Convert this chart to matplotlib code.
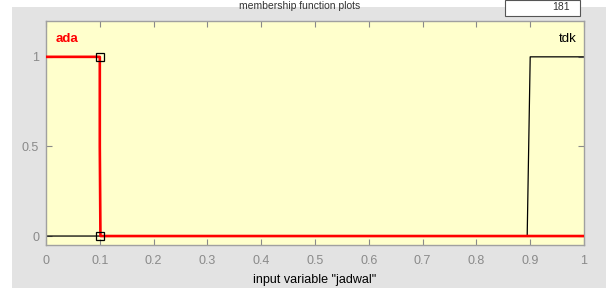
import matplotlib.pyplot as plt
from matplotlib.patches import Rectangle

# membership functions (breakpoints)
ada_x = [0.0, 0.1, 0.1, 0.1012, 1.0]
ada_y = [1.0, 1.0, 0.5, 0.0, 0.0]
tdk_x = [0.0, 0.8944, 0.8972, 0.9, 1.0]
tdk_y = [0.0, 0.0, 0.5, 1.0, 1.0]
param_x = [0.1, 0.1]
param_y = [1.0, 0.0]

xticks = [0, 0.1, 0.2, 0.3, 0.4, 0.5, 0.6, 0.7, 0.8, 0.9, 1]
xticklabels = ['0', '0.1', '0.2', '0.3', '0.4', '0.5', '0.6', '0.7', '0.8', '0.9', '1']
yticks = [0, 0.5, 1]
yticklabels = ['0', '0.5', '1']

plt.rcParams['font.family'] = ['Liberation Sans', 'DejaVu Sans']

W, H = 610, 288
fig = plt.figure(figsize=(6.1, 2.88), dpi=100, facecolor='white')
# gray panel of the window
fig.patches.append(Rectangle((12 / W, 0), 594 / W, 1 - 7 / H, transform=fig.transFigure,
                             facecolor='#e3e3e3', edgecolor='none', zorder=-5))
# title (cut off in the original) and the small edit box at the top
fig.text(300 / W, 1 - 1 / H, 'membership function plots', ha='center', va='top',
         fontsize=7.5, color='#333333', zorder=2)
fig.patches.append(Rectangle((505 / W, 1 - 16 / H), 75 / W, 16 / H, transform=fig.transFigure,
                             facecolor='white', edgecolor='#555555', lw=0.8, zorder=1))
fig.text(570 / W, 1 - 2 / H, '181', ha='right', va='top', fontsize=7.5, color='#333333', zorder=2)

ax = fig.add_axes([46 / W, 43 / H, 538 / W, 224 / H])
ax.set_facecolor('#ffffcc')

ax.plot(tdk_x, tdk_y, color='black', lw=0.9, zorder=2)
ax.plot(ada_x, ada_y, color='red', lw=1.9, zorder=3)
ax.plot(param_x, param_y, ls='none', marker='s', ms=5.5, mfc='none', mec='black',
        mew=0.9, zorder=4, clip_on=False)

ax.text(0.018, 1.1, 'ada', color='red', fontweight='bold', fontsize=9.5,
        ha='left', va='center')
ax.text(0.987, 1.1, 'tdk', color='black', fontsize=9.5, ha='right', va='center')

ax.set_xlim(0, 1)
ax.set_ylim(-0.05, 1.2)
ax.set_xticks(xticks)
ax.set_xticklabels(xticklabels)
ax.set_yticks(yticks)
ax.set_yticklabels(yticklabels)
ax.tick_params(direction='in', top=True, right=True, length=4, width=0.8,
               colors='#8a8a8a', labelsize=9, pad=7)
ax.tick_params(axis='y', pad=5)
for s in ax.spines.values():
    s.set_color('#a0a0a0')
    s.set_linewidth(1.0)
ax.set_xlabel('input variable "jadwal"', fontsize=9, color='black', labelpad=5)

fig.savefig('out.png', dpi=100)
